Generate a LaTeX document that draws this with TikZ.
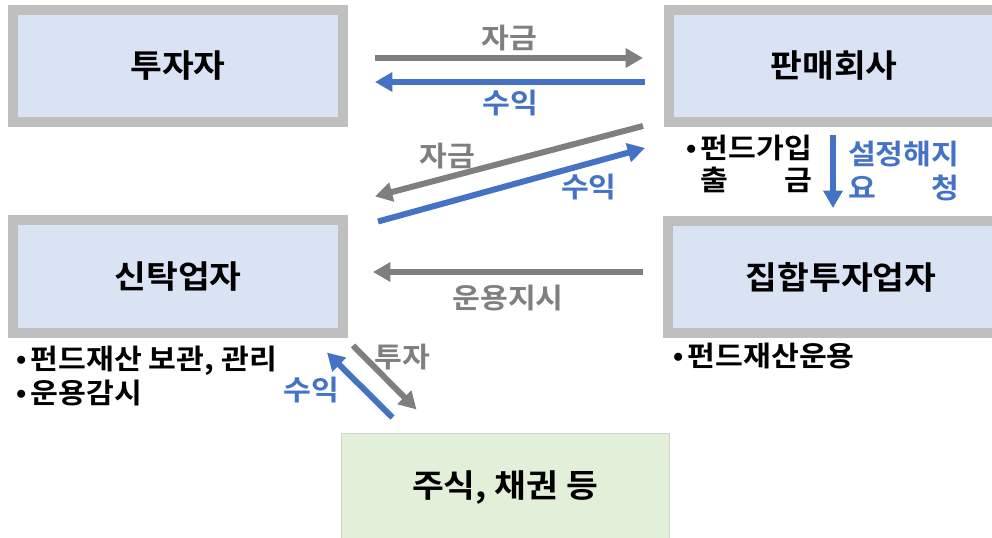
\documentclass[tikz,border=0pt]{standalone}
\usepackage{xcolor}
\usepackage{fontspec}
\usepackage{calc}
\usetikzlibrary{arrows.meta}
\setmainfont{Noto Sans CJK KR}[BoldFont={Noto Sans CJK KR Bold}, FakeStretch=1.08]
\newfontfamily\latinfont{Liberation Sans}
\definecolor{boxgray}{HTML}{BFBFBF}
\definecolor{boxblue}{HTML}{DAE3F3}
\definecolor{boxgreen}{HTML}{E2F0D9}
\definecolor{arrgray}{HTML}{7F7F7F}
\definecolor{arrblue}{HTML}{4472C4}
\newcommand{\bul}{{\latinfont •}\,}
\newcommand{\spread}[2]{\makebox[\widthof{#1}][s]{#2}}

\begin{document}
\begin{tikzpicture}[x=0.75pt, y=-0.75pt,
	main/.style = {draw=boxgray, fill=boxblue, line width=7.5pt, minimum width=247.5pt, minimum height=84pt, inner sep=0pt, font=\fontsize{24}{28}\selectfont\bfseries},
	asset/.style = {draw=boxgray!70, fill=boxgreen, line width=0.75pt, minimum width=246pt, minimum height=82.5pt, inner sep=0pt, font=\fontsize{24}{28}\selectfont\bfseries},
	note/.style = {inner sep=0pt, align=left, font=\fontsize{21}{26}\selectfont\bfseries},
	gline/.style = {draw=arrgray, line width=4.5pt, -{Triangle[length=13pt, width=14pt]}},
	bline/.style = {draw=arrblue, line width=4.5pt, -{Triangle[length=13pt, width=14pt]}}]
	\useasboundingbox (0,0) rectangle (992,538);
	\node[main] (1) at (178,66) {투자자};
	\node[main] (2) at (834,66) {판매회사};
	\node[main] (3) at (178,276.5) {신탁업자};
	\node[main, minimum width=259.5pt] (4) at (841,277) {집합투자업자};
	\node[asset] (5) at (505,488) {주식, 채권 등};
	% notes under the boxes
	\node[note, anchor=north west, font=\fontsize{21}{24}\selectfont\bfseries] (2n) at ([shift={(22,8)}]2.south west) {\bul 펀드가입\\ \phantom{\bul}\spread{펀드가입}{출\hfill 금}};
	\node[note, anchor=north west] (3n) at ([shift={(8,8)}]3.south west) {\bul 펀드재산 보관, 관리\\ \bul 운용감시};
	\node[note, anchor=north west] (4n) at ([shift={(10,5)}]4.south west) {\bul 펀드재산운용};
	% flows
	\draw[gline] ([shift={(27,-8)}]1.east) -- ([shift={(-21,-8)}]2.west) node[note, pos=0.5, yshift=15pt, text=arrgray] {자금};
	\draw[bline] ([shift={(-19,16)}]2.west) -- ([shift={(27,16)}]1.east) node[note, pos=0.5, yshift=-15.75pt, text=arrblue] {수익};
	\draw[gline] ([shift={(-21,-1)}]2.south west) -- ([shift={(27,-19)}]3.north east) node[note, pos=0.73, yshift=15.75pt, text=arrgray] {자금};
	\draw[bline] ([shift={(30,6)}]3.north east) -- ([shift={(-19,21)}]2.south west) node[note, pos=0.79, yshift=-18pt, text=arrblue] {수익};
	\draw[bline] ([shift={(-1,8)}]2.south) -- ([shift={(-8,-8)}]4.north) node[note, midway, anchor=west, xshift=9pt, text=arrblue, font=\fontsize{21}{25.5}\selectfont\bfseries] {설정해지\\ \spread{설정해지}{요\hfill 청}};
	\draw[gline] ([shift={(-20,-5)}]4.west) -- ([shift={(25,-4.5)}]3.east) node[note, pos=0.5, yshift=-19.5pt, text=arrgray] {운용지시};
	\draw[gline] ([shift={(5,8)}]3.south east) -- ([shift={(76,-23)}]5.north west) node[note, pos=0.18, xshift=28.5pt, text=arrgray] {투자};
	\draw[bline] ([shift={(52,-15)}]5.north west) -- ([shift={(-21,15)}]3.south east) node[note, pos=0.42, xshift=-40pt, text=arrblue] {수익};
\end{tikzpicture}
\end{document}
